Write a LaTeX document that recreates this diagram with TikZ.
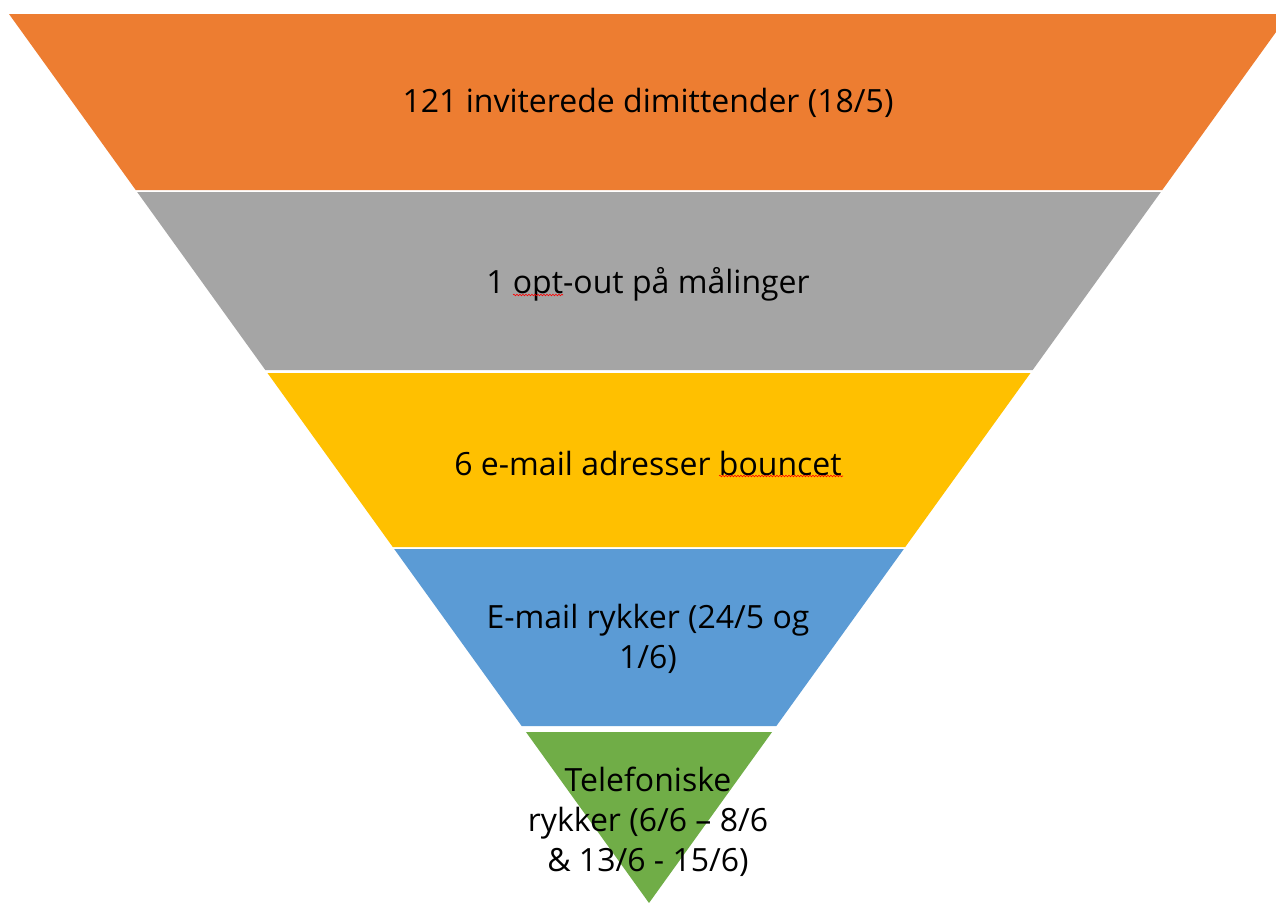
\documentclass[tikz,border=0pt]{standalone}
\usepackage{fontspec}
\setmainfont{Open Sans}
\usetikzlibrary{decorations.pathmorphing}
\definecolor{band1}{HTML}{ED7D31}
\definecolor{band2}{HTML}{A5A5A5}
\definecolor{band3}{HTML}{FFC000}
\definecolor{band4}{HTML}{5B9BD5}
\definecolor{band5}{HTML}{70AD47}
\tikzset{
  lbl/.style={font=\fontsize{32}{40}\selectfont, text=black, align=center, inner sep=0pt},
  spell/.style={draw=red, line width=0.6pt, decorate, decoration={snake, amplitude=0.8pt, segment length=3pt}}
}
\newcommand{\lx}[1]{9+0.72*(#1-14)}
\newcommand{\rx}[1]{1289-0.72*(#1-14)}
\begin{document}
\begin{tikzpicture}[x=1pt,y=-1pt]
\useasboundingbox (0,0) rectangle (1276,902);
\fill[white] (0,0) rectangle (1276,902);
\begin{scope}
\clip (0,0) rectangle (1276,902);
\fill[band1] ({\lx{14}},14) -- ({\rx{14}},14) -- ({\rx{190}},190) -- ({\lx{190}},190) -- cycle;
\fill[band2] ({\lx{192}},192) -- ({\rx{192}},192) -- ({\rx{370}},370) -- ({\lx{370}},370) -- cycle;
\fill[band3] ({\lx{373}},373) -- ({\rx{373}},373) -- ({\rx{547}},547) -- ({\lx{547}},547) -- cycle;
\fill[band4] ({\lx{549}},549) -- ({\rx{549}},549) -- ({\rx{726}},726) -- ({\lx{726}},726) -- cycle;
\fill[band5] ({\lx{732}},732) -- ({\rx{732}},732) -- (649,903) -- cycle;
\end{scope}
\node[lbl] (t1) at (648,103) {121 inviterede dimittender (18/5)};
\node[lbl] (t2) at (648,284) {1 opt-out på målinger};
\node[lbl] (t3) at (648,463) {6 e-mail adresser bouncet};
\node[lbl] (t4) at (648,639) {E-mail rykker (24/5 og\\1/6)};
\node[lbl] (t5) at (648,822) {Telefoniske\\rykker (6/6 – 8/6\\\& 13/6 - 15/6)};
\coordinate (s1a) at (513,295);
\coordinate (s1b) at (563,295);
\coordinate (s2a) at (719,476);
\coordinate (s2b) at (843,476);
\draw[spell] (s1a) -- (s1b);
\draw[spell] (s2a) -- (s2b);
\end{tikzpicture}
\end{document}
